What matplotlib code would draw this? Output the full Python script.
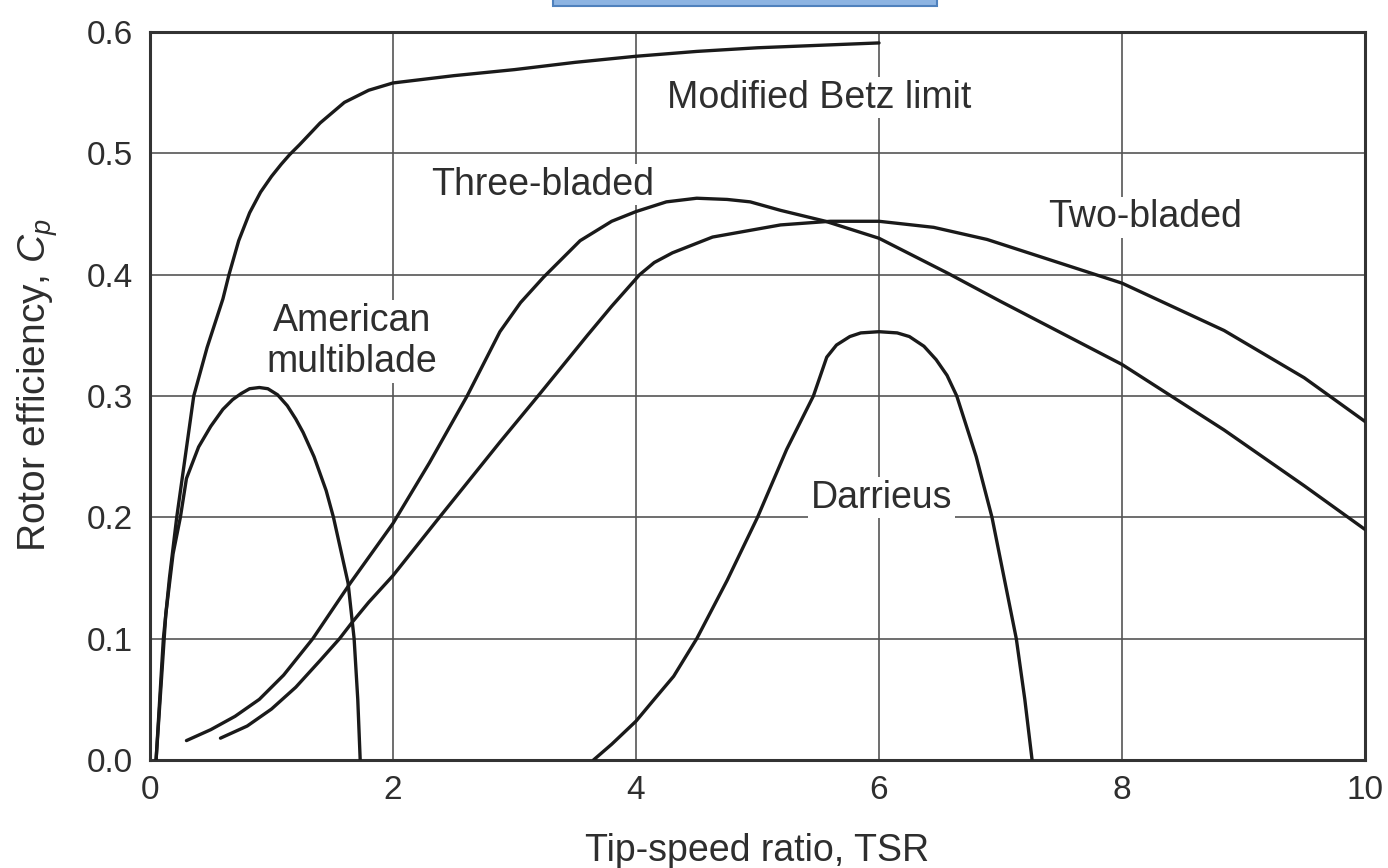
import matplotlib
matplotlib.use("Agg")
import matplotlib.pyplot as plt
from matplotlib.patches import Rectangle

plt.rcParams['font.family'] = ['Liberation Sans', 'DejaVu Sans']
plt.rcParams['mathtext.fontset'] = 'custom'
plt.rcParams['mathtext.it'] = 'Liberation Sans:italic'
plt.rcParams['mathtext.rm'] = 'Liberation Sans'

# values (x = tip-speed ratio, y = Cp)
betz_x = [0.05, 0.08, 0.11, 0.16, 0.22, 0.29, 0.36, 0.47, 0.6, 0.65, 0.73, 0.82, 0.91, 1.0,
          1.08, 1.15, 1.23, 1.4, 1.6, 1.8, 2.0, 2.5, 3.0, 3.5, 4.0, 4.5, 5.0, 5.5, 6.0]
betz_y = [0.0, 0.05, 0.1, 0.15, 0.2, 0.25, 0.3, 0.34, 0.38, 0.4, 0.428, 0.451, 0.468, 0.481,
          0.491, 0.499, 0.507, 0.525, 0.542, 0.552, 0.558, 0.564, 0.569, 0.575, 0.58, 0.584,
          0.587, 0.589, 0.591]

american_x = [0.05, 0.09, 0.13, 0.19, 0.25, 0.3, 0.4, 0.5, 0.6, 0.68, 0.75, 0.82, 0.9, 0.97,
              1.05, 1.13, 1.2, 1.26, 1.35, 1.45, 1.51, 1.57, 1.63, 1.68, 1.71, 1.73]
american_y = [0.0, 0.06, 0.12, 0.17, 0.2, 0.232, 0.258, 0.275, 0.289, 0.297, 0.302, 0.306,
              0.307, 0.306, 0.301, 0.292, 0.281, 0.27, 0.25, 0.222, 0.2, 0.173, 0.146, 0.1,
              0.05, 0.0]

three_x = [0.3, 0.5, 0.7, 0.9, 1.1, 1.34, 1.65, 2.0, 2.3, 2.61, 2.88, 3.05, 3.24, 3.54,
           3.8, 4.0, 4.25, 4.5, 4.75, 4.94, 5.19, 5.56, 6.0, 6.57, 7.0, 8.0, 8.84, 9.5, 10.0]
three_y = [0.016, 0.025, 0.036, 0.05, 0.07, 0.1, 0.146, 0.195, 0.245, 0.3, 0.353, 0.377,
           0.398, 0.428, 0.444, 0.452, 0.46, 0.463, 0.462, 0.46, 0.453, 0.444, 0.43, 0.401,
           0.378, 0.326, 0.272, 0.226, 0.19]

two_x = [0.58, 0.8, 1.0, 1.2, 1.4, 1.56, 1.66, 1.8, 2.0, 2.35, 2.88, 3.21, 3.6, 3.8, 4.03,
         4.15, 4.3, 4.63, 5.19, 5.6, 6.0, 6.45, 6.89, 8.0, 8.84, 9.5, 10.0]
two_y = [0.018, 0.028, 0.042, 0.06, 0.082, 0.1, 0.113, 0.13, 0.152, 0.196, 0.262, 0.302,
         0.35, 0.374, 0.4, 0.41, 0.418, 0.431, 0.441, 0.444, 0.444, 0.439, 0.429, 0.393,
         0.354, 0.315, 0.279]

darrieus_x = [3.65, 3.8, 4.0, 4.15, 4.31, 4.5, 4.75, 5.0, 5.24, 5.46, 5.57, 5.65, 5.76,
              5.85, 6.0, 6.15, 6.25, 6.37, 6.47, 6.56, 6.64, 6.8, 6.93, 7.13, 7.2, 7.26]
darrieus_y = [0.0, 0.013, 0.032, 0.05, 0.069, 0.1, 0.148, 0.2, 0.256, 0.3, 0.332, 0.342,
              0.349, 0.352, 0.353, 0.352, 0.349, 0.341, 0.33, 0.317, 0.3, 0.25, 0.2, 0.1,
              0.05, 0.0]

x_ticks = [0, 2, 4, 6, 8, 10]
y_ticks = [0.0, 0.1, 0.2, 0.3, 0.4, 0.5, 0.6]
y_tick_labels = ['0.0', '0.1', '0.2', '0.3', '0.4', '0.5', '0.6']

ink = '#1a1a1a'
text_col = '#2e2e2e'

fig = plt.figure(figsize=(13.88, 8.68), dpi=100)
ax = fig.add_axes([150 / 1388, 108 / 868, 1215 / 1388, 728 / 868])

for xs, ys in [(betz_x, betz_y), (american_x, american_y), (three_x, three_y),
               (two_x, two_y), (darrieus_x, darrieus_y)]:
    ax.plot(xs, ys, color=ink, lw=2.4, solid_capstyle='round', solid_joinstyle='round', zorder=3)

ax.set_xlim(0, 10)
ax.set_ylim(0, 0.6)
ax.set_xticks(x_ticks)
ax.set_yticks(y_ticks)
ax.set_yticklabels(y_tick_labels)
ax.grid(True, color='#555555', lw=1.2)
ax.set_axisbelow(True)
ax.tick_params(length=0, labelsize=24, labelcolor=text_col)
ax.tick_params(axis='x', pad=11)
ax.tick_params(axis='y', pad=12)
for s in ax.spines.values():
    s.set_color('#333333')
    s.set_linewidth(2.2)

ax.set_xlabel('Tip-speed ratio, TSR', fontsize=27, color=text_col)
ax.xaxis.set_label_coords(0.5, -0.1)
ax.set_ylabel('Rotor efficiency, $C_p$', fontsize=28, color=text_col)
ax.yaxis.set_label_coords(-0.074, 0.515)

box = dict(facecolor='white', edgecolor='none', pad=2)
lab = dict(fontsize=27, color=text_col, ha='center', bbox=box, zorder=2)
ax.text(5.51, 0.5375, 'Modified Betz limit', va='baseline', **lab)
ax.text(3.23, 0.466, 'Three-bladed', va='baseline', **lab)
ax.text(8.19, 0.439, 'Two-bladed', va='baseline', **lab)
ax.text(6.02, 0.208, 'Darrieus', va='baseline', **lab)
ax.text(1.66, 0.377, 'American\nmultiblade', va='top', multialignment='center', **lab)

# blue strip at the top edge of the picture
fig.patches.append(Rectangle((553 / 1388, 1 - 6 / 868), 384 / 1388, 0.02,
                             transform=fig.transFigure, facecolor='#8db4e2',
                             edgecolor='#4f81bd', lw=1.5))

fig.savefig('out.png', dpi=100)
